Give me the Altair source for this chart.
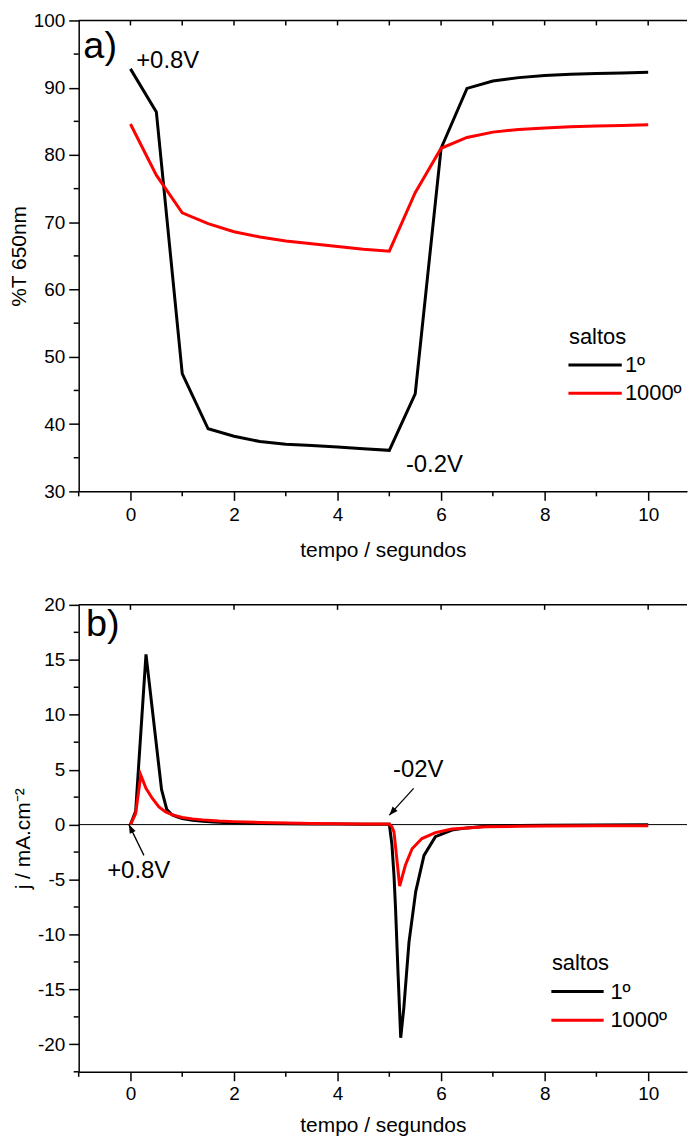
import altair as alt
import pandas as pd

FONT = "Liberation Sans"

# ---------------- data: panel a (%T at 650 nm) ----------------
time_a = [0, 0.5, 1, 1.5, 2, 2.5, 3, 3.5, 4, 4.5, 5, 5.5, 6, 6.5, 7, 7.5, 8, 8.5, 9, 9.5, 10]
trans_1 = [92.8, 86.4, 47.5, 39.3, 38.2, 37.4, 37.0, 36.8, 36.6, 36.35, 36.1,
           44.5, 81.0, 89.9, 91.0, 91.5, 91.8, 92.0, 92.1, 92.2, 92.3]
trans_1000 = [84.6, 77.0, 71.4, 69.8, 68.6, 67.8, 67.2, 66.8, 66.4, 66.0, 65.7,
              74.4, 81.0, 82.6, 83.4, 83.8, 84.0, 84.2, 84.3, 84.4, 84.5]

# ---------------- data: panel b (current density) ----------------
time_b1 = [0, 0.1, 0.3, 0.6, 0.7, 0.8, 0.9, 1.0, 1.2, 1.4, 1.6, 1.8, 2.0, 2.5, 3.0, 3.5, 4.0, 4.5, 5.0,
           5.05, 5.09, 5.12, 5.17, 5.22, 5.28, 5.38, 5.51, 5.67, 5.89, 6.21, 6.5, 6.86, 7.5, 8, 9, 10]
j_1 = [0, 1.2, 15.5, 3.2, 1.4, 0.9, 0.7, 0.55, 0.4, 0.3, 0.24, 0.2, 0.17, 0.11, 0.08, 0.06, 0.05, 0.04, 0.03,
       -1.8, -4.6, -7.6, -13.7, -19.4, -16.7, -10.7, -6.1, -2.8, -1.1, -0.5, -0.3, -0.15, -0.08, -0.05, -0.03, -0.02]
time_b1000 = [0, 0.1, 0.2, 0.3, 0.42, 0.55, 0.68, 0.8, 1.0, 1.2, 1.4, 1.71, 2.0, 2.5, 3.0, 3.5, 4.0, 4.5, 5.0,
              5.05, 5.09, 5.2, 5.31, 5.44, 5.63, 5.89, 6.21, 6.86, 7.5, 8, 9, 10]
j_1000 = [0, 1.0, 4.5, 3.3, 2.4, 1.6, 1.15, 0.9, 0.64, 0.52, 0.43, 0.33, 0.27, 0.2, 0.15, 0.11, 0.08, 0.06, 0.05,
          -0.2, -0.67, -5.6, -3.7, -2.2, -1.27, -0.73, -0.4, -0.2, -0.15, -0.12, -0.1, -0.1]

series_names = ["1º", "1000º"]
series_colors = ["#000000", "#ff0000"]
legend_title = "saltos"

# annotations (data coordinates)
a_panel_label = ["a)"]; a_panel_x = [-0.91]; a_panel_y = [96.1]
a_note_text = ["+0.8V", "-0.2V"]; a_note_x = [0.11, 5.32]; a_note_y = [94.0, 33.9]
b_panel_label = ["b)"]; b_panel_x = [-0.86]; b_panel_y = [18.2]
b_note_text = ["+0.8V", "-02V"]; b_note_x = [-0.45, 5.07]; b_note_y = [-4.2, 5.0]
arrow_tail_x = [0.26, 5.47]; arrow_tail_y = [-2.8, 3.3]
arrow_tip_x = [-0.03, 5.0]; arrow_tip_y = [0.0, 0.86]
arrow_angle = [334, 222]

# legend placement (data coordinates of each panel)
a_leg_title = (8.47, 51.9); a_leg_x = (8.46, 9.49, 9.55); a_leg_y = [48.8, 44.6]
b_leg_title = (8.14, -13.25); b_leg_x = (8.13, 9.14, 9.27); b_leg_y = [-15.2, -17.8]

X_DOMAIN = [-1, 10.75]
A_DOMAIN = [30, 100]
B_DOMAIN = [-22.5, 20]
x_major = [0, 2, 4, 6, 8, 10]
x_minor = [-1, 1, 3, 5, 7, 9]
a_top_ticks = list(range(0, 11))
b_top_ticks = list(range(0, 11, 2))
a_y_major = [30, 40, 50, 60, 70, 80, 90, 100]
a_y_minor = [35, 45, 55, 65, 75, 85, 95]
b_y_major = [-20, -15, -10, -5, 0, 5, 10, 15, 20]
b_y_minor = [-22.5, -17.5, -12.5, -7.5, -2.5, 2.5, 7.5, 12.5, 17.5]

W = 611
HA = 473
HB = 469


def x_enc(field, title, label_pad, title_pad):
    return alt.X(field, type="quantitative", scale=alt.Scale(domain=X_DOMAIN, nice=False, zero=False),
                 axis=alt.Axis(title=title, values=x_major, labelExpr="'' + datum.value", tickSize=9,
                               labelPadding=label_pad, titlePadding=title_pad, grid=False,
                               labelFlush=False, labelOverlap=False))


def y_enc(field, title, domain, ticks):
    return alt.Y(field, type="quantitative", scale=alt.Scale(domain=domain, nice=False, zero=False),
                 axis=alt.Axis(title=title, values=ticks, labelExpr="'' + datum.value", tickSize=10,
                               labelPadding=4, titlePadding=4, grid=False,
                               labelFlush=False, labelOverlap=False))


def panel(time, s1, s2, ytitle, ydomain, ymajor, yminor, top_ticks, panel_lab, notes, leg_title, leg_x, leg_y,
          height, label_pad, title_pad, arrows=None, zero_line=False):
    d1 = pd.DataFrame({"t": time[0], "v": s1})
    d2 = pd.DataFrame({"t": time[1], "v": s2})
    xe = x_enc("t", "tempo / segundos", label_pad, title_pad)
    ye = y_enc("v", ytitle, ydomain, ymajor)
    layers = []
    layers.append(alt.Chart(d1).mark_line(color=series_colors[0], strokeWidth=3, strokeJoin="miter")
                  .encode(x=xe, y=ye))
    if zero_line:
        layers.append(alt.Chart(pd.DataFrame({"v": [0]})).mark_rule(color="black", strokeWidth=1)
                      .encode(y="v:Q"))
    layers.append(alt.Chart(d2).mark_line(color=series_colors[1], strokeWidth=3, strokeJoin="miter")
                  .encode(x="t:Q", y="v:Q"))
    # minor ticks (outside) on the left and bottom axes
    layers.append(alt.Chart(pd.DataFrame({"v": yminor})).mark_rule(color="black", strokeWidth=1.5)
                  .encode(y="v:Q", x=alt.value(0), x2=alt.value(-5)))
    layers.append(alt.Chart(pd.DataFrame({"t": x_minor})).mark_rule(color="black", strokeWidth=1.5)
                  .encode(x="t:Q", y=alt.value(height), y2=alt.value(height + 5)))
    # top frame line with inward ticks
    layers.append(alt.Chart(pd.DataFrame({"k": [0]})).mark_rule(color="black", strokeWidth=1.5)
                  .encode(y=alt.value(0)))
    layers.append(alt.Chart(pd.DataFrame({"t": top_ticks})).mark_rule(color="black", strokeWidth=1.5)
                  .encode(x="t:Q", y=alt.value(0), y2=alt.value(5)))
    # panel label
    layers.append(alt.Chart(pd.DataFrame({"t": panel_lab[1], "v": panel_lab[2], "s": panel_lab[0]}))
                  .mark_text(align="left", baseline="middle", font=FONT, fontSize=38, color="black")
                  .encode(x="t:Q", y="v:Q", text="s:N"))
    # notes
    layers.append(alt.Chart(pd.DataFrame({"t": notes[1], "v": notes[2], "s": notes[0]}))
                  .mark_text(align="left", baseline="middle", font=FONT, fontSize=24, color="black")
                  .encode(x="t:Q", y="v:Q", text="s:N"))
    if arrows is not None:
        ad = pd.DataFrame({"t": arrows[0], "v": arrows[1], "t2": arrows[2], "v2": arrows[3], "a": arrows[4]})
        layers.append(alt.Chart(ad).mark_rule(color="black", strokeWidth=1.3)
                      .encode(x="t:Q", y="v:Q", x2="t2:Q", y2="v2:Q"))
        layers.append(alt.Chart(ad).mark_point(shape="M0,0L-0.38,1L0.38,1Z", filled=True, opacity=1,
                                               color="black", size=300, strokeWidth=0)
                      .encode(x="t2:Q", y="v2:Q", angle=alt.Angle("a:Q", scale=None)))
    # legend
    layers.append(alt.Chart(pd.DataFrame({"t": [leg_title[0]], "v": [leg_title[1]], "s": [legend_title]}))
                  .mark_text(align="left", baseline="alphabetic", font=FONT, fontSize=22, color="black")
                  .encode(x="t:Q", y="v:Q", text="s:N"))
    ld = pd.DataFrame({"t": [leg_x[0]] * 2, "t2": [leg_x[1]] * 2, "tl": [leg_x[2]] * 2, "v": leg_y,
                       "s": series_names, "c": series_colors})
    layers.append(alt.Chart(ld).mark_rule(strokeWidth=3)
                  .encode(x="t:Q", x2="t2:Q", y="v:Q", color=alt.Color("c:N", scale=None)))
    layers.append(alt.Chart(ld).mark_text(align="left", baseline="middle", font=FONT, fontSize=22, color="black")
                  .encode(x="tl:Q", y="v:Q", text="s:N"))
    return alt.layer(*layers).properties(width=W, height=height)


top = panel((time_a, time_a), trans_1, trans_1000, "%T 650nm", A_DOMAIN, a_y_major, a_y_minor, a_top_ticks,
            (a_panel_label, a_panel_x, a_panel_y), (a_note_text, a_note_x, a_note_y),
            a_leg_title, a_leg_x, a_leg_y, HA, 5, 15)
bottom = panel((time_b1, time_b1000), j_1, j_1000, "j / mA.cm⁻²", B_DOMAIN, b_y_major, b_y_minor, b_top_ticks,
               (b_panel_label, b_panel_x, b_panel_y), (b_note_text, b_note_x, b_note_y),
               b_leg_title, b_leg_x, b_leg_y, HB, 4, 11,
               arrows=(arrow_tail_x, arrow_tail_y, arrow_tip_x, arrow_tip_y, arrow_angle), zero_line=True)

chart = alt.vconcat(top, bottom, spacing=36).properties(
    padding={"left": 0, "top": 1, "right": 0, "bottom": 0}
).configure_axis(
    labelFont=FONT, titleFont=FONT, labelFontSize=19, titleFontSize=21, titleFontWeight="normal",
    labelColor="black", titleColor="black", domainColor="black", tickColor="black",
    domainWidth=1.5, tickWidth=1.5
).configure_view(stroke=None)

chart.save("out.html", embed_options={"renderer": "svg", "actions": False})
